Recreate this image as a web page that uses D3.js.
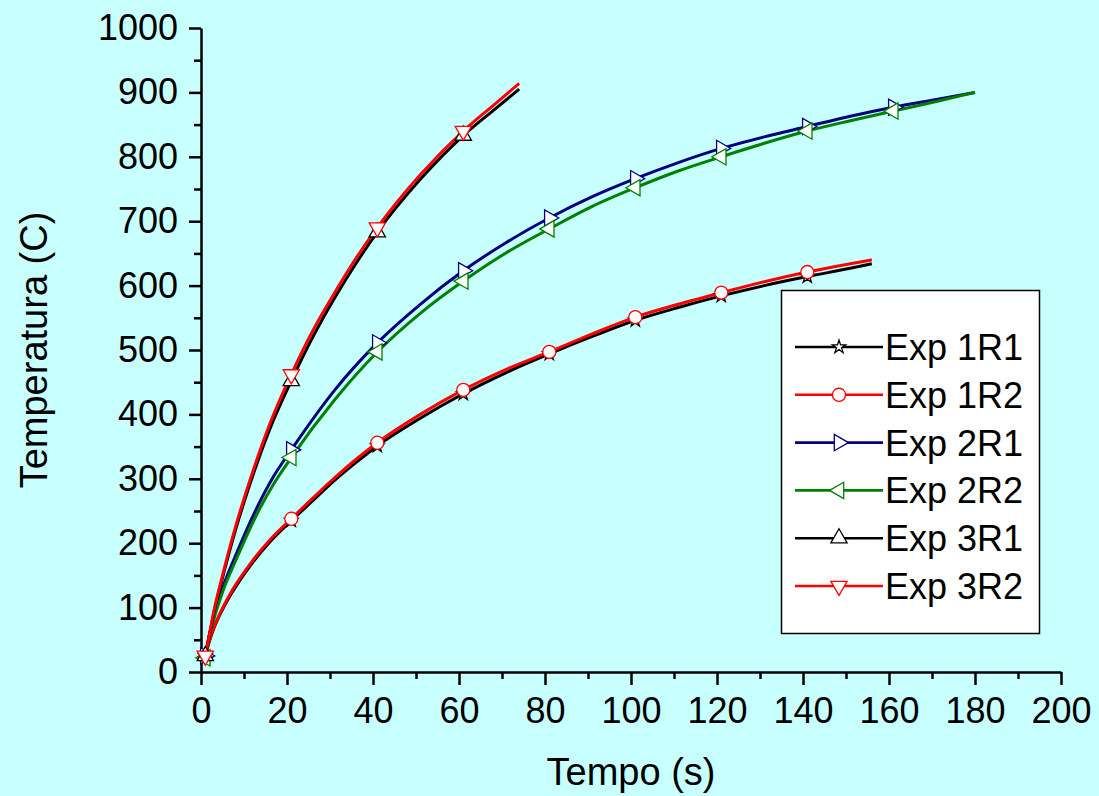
<!DOCTYPE html>
<html>
<head>
<meta charset="utf-8">
<script src="https://cdnjs.cloudflare.com/ajax/libs/d3/7.8.5/d3.min.js"></script>
<style>
  body { margin: 0; background: #c8ffff; }
  svg { display: block; font-family: Arial, "Liberation Sans", sans-serif; }
</style>
</head>
<body>
<div id="chart"></div>
<script>
var width = 1099,
    height = 796,
    margin = {top: 28, right: 38, bottom: 124, left: 201};

// time (s) and temperature (C)
var tExp1 = [1, 2, 3, 5, 7, 9, 12, 16, 21, 26, 31, 36, 41, 51, 61, 71, 81, 91, 101, 111, 121, 131, 141, 151, 156];
var exp1R1 = [25, 49, 68, 97, 121, 142, 170, 202, 235, 266, 297, 325, 351, 394, 432, 465, 494, 521, 546, 566, 584, 600, 614, 627, 634];
var exp1R2 = [25, 50, 69, 99, 124, 145, 173, 205, 238, 270, 301, 330, 356, 400, 438, 470, 497, 525, 551, 571, 589, 606, 621, 634, 640];

var tExp2 = [1, 2, 3, 5, 8, 13, 17, 21, 31, 41, 51, 61, 71, 81, 91, 101, 111, 121, 131, 141, 151, 161, 171, 180];
var exp2R1 = [25, 60, 87, 130, 180, 255, 305, 345, 437, 511, 571, 623, 667, 705, 738, 766, 791, 813, 831, 847, 863, 877, 889, 900];
var exp2R2 = [22, 56, 82, 124, 172, 245, 293, 333, 422, 497, 557, 607, 651, 688, 723, 752, 778, 800, 821, 840, 856, 871, 886, 900];

var tExp3 = [1, 2, 3, 5, 8, 11, 16, 21, 26, 31, 36, 41, 51, 61, 68, 74];
var exp3R1 = [25, 58, 92, 146, 220, 284, 377, 452, 520, 580, 634, 683, 765, 833, 872, 905];
var exp3R2 = [25, 60, 95, 150, 225, 290, 385, 462, 530, 588, 642, 690, 772, 840, 880, 914];

var names = ["Exp 1R1", "Exp 1R2", "Exp 2R1", "Exp 2R2", "Exp 3R1", "Exp 3R2"];
var colors = ["#000000", "#ff0000", "#000080", "#008000", "#000000", "#ff0000"];
var symbols = ["star", "circle", "right", "left", "up", "down"];

var series = [
  {t: tExp1, v: exp1R1}, {t: tExp1, v: exp1R2},
  {t: tExp2, v: exp2R1}, {t: tExp2, v: exp2R2},
  {t: tExp3, v: exp3R1}, {t: tExp3, v: exp3R2}
].map(function(s, i) {
  return {
    name: names[i], color: colors[i], symbol: symbols[i],
    points: s.t.map(function(t, j) { return {t: t, v: s.v[j]}; })
  };
});

var svg = d3.select("#chart").append("svg")
    .attr("width", width)
    .attr("height", height);

svg.append("rect")
    .attr("width", width)
    .attr("height", height)
    .attr("fill", "#c8ffff");

var x = d3.scaleLinear().domain([0, 200]).range([margin.left, width - margin.right]);
var y = d3.scaleLinear().domain([0, 1000]).range([height - margin.bottom, margin.top]);

// axes: minor ticks first, then major with labels
svg.append("g")
    .attr("transform", "translate(0," + y(0) + ")")
    .call(d3.axisBottom(x).tickValues(d3.range(10, 200, 20)).tickSize(7).tickFormat(""))
    .call(function(g) { g.select(".domain").remove(); });

var xAxis = svg.append("g")
    .attr("transform", "translate(0," + y(0) + ")")
    .call(d3.axisBottom(x).tickValues(d3.range(0, 201, 20)).tickSize(13).tickSizeOuter(0)
      .tickPadding(12).tickFormat(d3.format("d")));

svg.append("g")
    .attr("transform", "translate(" + x(0) + ",0)")
    .call(d3.axisLeft(y).tickValues(d3.range(50, 1000, 100)).tickSize(7).tickFormat(""))
    .call(function(g) { g.select(".domain").remove(); });

var yAxis = svg.append("g")
    .attr("transform", "translate(" + x(0) + ",0)")
    .call(d3.axisLeft(y).tickValues(d3.range(0, 1001, 100)).tickSize(12).tickSizeOuter(0)
      .tickPadding(11).tickFormat(d3.format("d")));

svg.selectAll(".tick line, .domain")
    .attr("stroke", "#000")
    .attr("stroke-width", 2.5);

svg.selectAll(".tick text")
    .attr("fill", "#000")
    .style("font-size", "36px");

xAxis.selectAll(".tick text").attr("dy", "0.71em");

// axis titles
svg.append("text")
    .attr("x", (x(0) + x(200)) / 2)
    .attr("y", 785)
    .attr("text-anchor", "middle")
    .style("font-size", "38px")
    .text("Tempo (s)");

svg.append("text")
    .attr("transform", "translate(47," + (y(0) + y(1000)) / 2 + ") rotate(-90)")
    .attr("text-anchor", "middle")
    .style("font-size", "38px")
    .text("Temperatura (C)");

function symbolPath(kind) {
  if (kind === "star") return d3.symbol().type(d3.symbolStar).size(55)();
  if (kind === "circle") return d3.symbol().type(d3.symbolCircle).size(135)();
  return d3.symbol().type(d3.symbolTriangle).size(115)();
}
var rotation = {star: 0, circle: 0, up: 0, right: 90, down: 180, left: 270};

var line = d3.line()
    .x(function(d) { return x(d.t); })
    .y(function(d) { return y(d.v); })
    .curve(d3.curveMonotoneX);

var plot = svg.append("g");

plot.selectAll(".series")
    .data(series)
    .enter().append("path")
    .attr("class", "series")
    .attr("fill", "none")
    .attr("stroke", function(d) { return d.color; })
    .attr("stroke-width", 3)
    .attr("d", function(d) { return line(d.points); });

// markers every 20 s starting at t = 1
series.forEach(function(s) {
  plot.selectAll(null)
      .data(s.points.filter(function(p) { return (p.t - 1) % 20 === 0; }))
      .enter().append("path")
      .attr("d", symbolPath(s.symbol))
      .attr("transform", function(p) {
        return "translate(" + x(p.t) + "," + y(p.v) + ") rotate(" + rotation[s.symbol] + ")";
      })
      .attr("fill", "#fff")
      .attr("stroke", s.color)
      .attr("stroke-width", 1.3);
});

// legend
var legend = svg.append("g");

legend.append("rect")
    .attr("x", 781.5)
    .attr("y", 290.5)
    .attr("width", 258)
    .attr("height", 343)
    .attr("fill", "#fff")
    .attr("stroke", "#000")
    .attr("stroke-width", 1.5);

var item = legend.selectAll(".item")
    .data(series)
    .enter().append("g")
    .attr("transform", function(d, i) { return "translate(0," + (347 + i * 47.8) + ")"; });

item.append("line")
    .attr("x1", 795).attr("x2", 883)
    .attr("stroke", function(d) { return d.color; })
    .attr("stroke-width", 2.6);

item.append("path")
    .attr("d", function(d) { return symbolPath(d.symbol); })
    .attr("transform", function(d) { return "translate(839,0) rotate(" + rotation[d.symbol] + ")"; })
    .attr("fill", "#fff")
    .attr("stroke", function(d) { return d.color; })
    .attr("stroke-width", 1.3);

item.append("text")
    .attr("x", 885)
    .attr("y", 13)
    .style("font-size", "36px")
    .text(function(d) { return d.name; });
</script>
</body>
</html>
